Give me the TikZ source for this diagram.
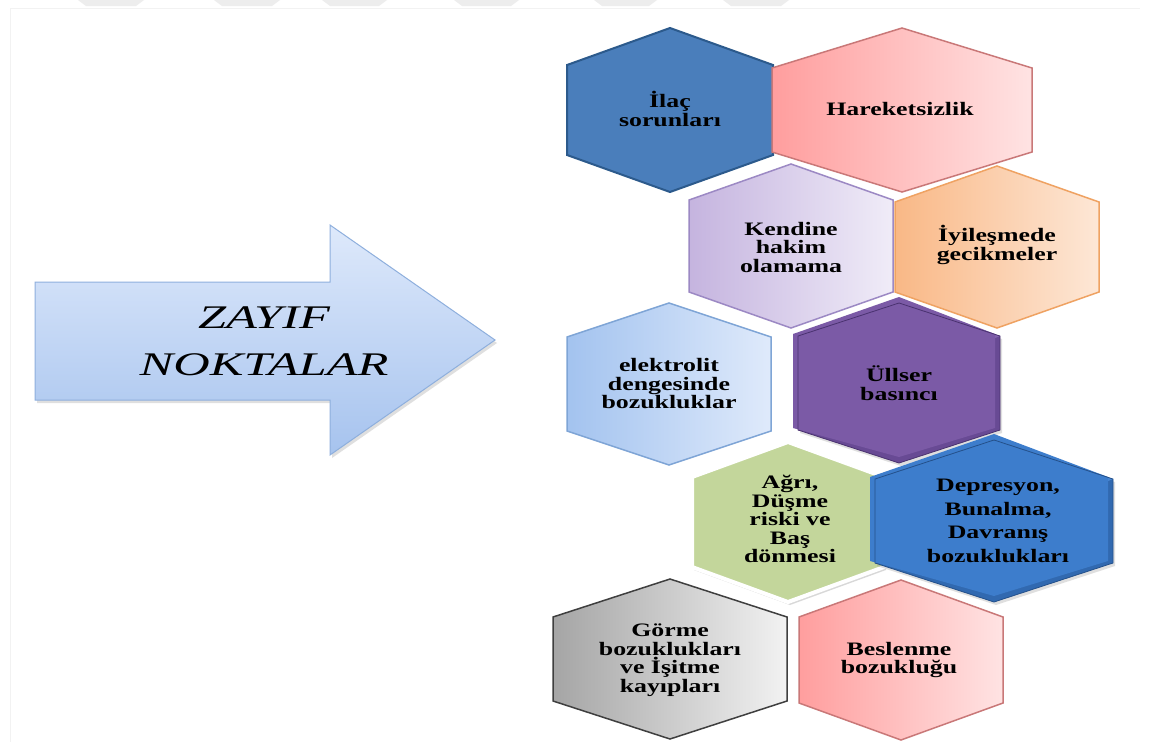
\documentclass[tikz,border=0pt]{standalone}
\usepackage{fontspec}
\setmainfont{Liberation Serif}
\newfontfamily\hexfont{Liberation Serif}[FakeStretch=1.36]
\newfontfamily\arrowfont{Liberation Serif}[FakeStretch=1.53]
\usetikzlibrary{shadows}

\definecolor{ilacblue}{HTML}{4A7EBB}
\definecolor{ilacedge}{HTML}{2C5A8C}
\definecolor{pinkL}{HTML}{FF9E9E}
\definecolor{pinkR}{HTML}{FFE3E3}
\definecolor{pinkedge}{HTML}{C97878}
\definecolor{lavL}{HTML}{C5B4DF}
\definecolor{lavR}{HTML}{F0ECF8}
\definecolor{lavedge}{HTML}{9C89C4}
\definecolor{orL}{HTML}{F9B886}
\definecolor{orR}{HTML}{FDE7D6}
\definecolor{oredge}{HTML}{EFA262}
\definecolor{ltbL}{HTML}{A3C3EF}
\definecolor{ltbR}{HTML}{DFEAFB}
\definecolor{ltbedge}{HTML}{7FA5D6}
\definecolor{greenA}{HTML}{C3D69B}
\definecolor{grayL}{HTML}{A5A5A5}
\definecolor{grayR}{HTML}{F2F2F2}
\definecolor{grayedge}{HTML}{3F3F3F}
\definecolor{arrowT}{HTML}{DEE9FB}
\definecolor{arrowB}{HTML}{A6C3EE}
\definecolor{arrowedge}{HTML}{8EAFDD}
\definecolor{purBase}{HTML}{7B5AA6}
\definecolor{purLight}{HTML}{A68DCC}
\definecolor{purTop}{HTML}{8465AF}
\definecolor{purDark}{HTML}{684A94}
\definecolor{purEdge}{HTML}{4A3270}
\definecolor{depBase}{HTML}{3D7DCC}
\definecolor{depLight}{HTML}{8AB4EA}
\definecolor{depTop}{HTML}{4A88D4}
\definecolor{depDark}{HTML}{3169B0}
\definecolor{depEdge}{HTML}{24508A}
\definecolor{wmark}{HTML}{EDEDED}

% #1 cx, #2 cy, #3 half width, #4 half height (vertex), #5 half side, #6 style
\newcommand\hexshape[6]{%
  \path[#6] (#1-#3,#2-#5) -- (#1,#2-#4) -- (#1+#3,#2-#5) -- (#1+#3,#2+#5)
    -- (#1,#2+#4) -- (#1-#3,#2+#5) -- cycle;}

% bevelled hexagon: #1..#5 geometry, #6 base, #7 light, #8 top, #9 dark
\newcommand\bevelhex[9]{%
  \hexshape{#1}{#2}{#3}{#4}{#5}{fill=#9, drop shadow={shadow xshift=2pt,shadow yshift=-3pt,opacity=0.25}}%
  \path[fill=#7] (#1-#3,#2-#5) -- (#1-#3,#2+#5) -- (#1-#3+5,#2+#5-2) -- (#1-#3+5,#2-#5+2) -- cycle;
  \path[fill=#8] (#1-#3,#2-#5) -- (#1,#2-#4) -- (#1+#3,#2-#5) -- (#1+#3-5,#2-#5+2) -- (#1,#2-#4+6) -- (#1-#3+5,#2-#5+2) -- cycle;
  \hexshape{#1}{#2}{#3-5}{#4-6}{#5-2}{fill=#6}}

\tikzset{
  hextext/.style={font=\hexfont\bfseries\fontsize{19}{18.5}\selectfont, align=center, text=black, inner sep=0pt},
  deptext/.style={hextext, font=\hexfont\bfseries\fontsize{19}{23.5}\selectfont},
  arrowtext/.style={font=\arrowfont\itshape\fontsize{33}{47}\selectfont, align=center, text=black, inner sep=0pt},
}

\begin{document}
\begin{tikzpicture}[x=1pt,y=-1pt]
\useasboundingbox (0,0) rectangle (1149,742);
\fill[white] (0,0) rectangle (1149,742);

% faint watermark remnants at the top edge
\foreach \a/\b in {82/140, 218/276, 326/383, 458/515, 598/653, 727/785}{
  \fill[wmark] (\a-4,0) -- (\b+4,0) -- (\b-4,6) -- (\a+4,6) -- cycle;
}
\draw[black!5, line width=0.6pt] (10,742) -- (10,8) -- (1140,8);

% arrow
\path[top color=arrowT, bottom color=arrowB, draw=arrowedge, line width=1pt,
      drop shadow={shadow xshift=2pt,shadow yshift=-3pt,opacity=0.25}]
  (35,282) -- (330,282) -- (330,225) -- (495,340) -- (330,455) -- (330,400) -- (35,400) -- cycle;
\node[arrowtext] (zayif) at (264,341) {ZAYIF\\NOKTALAR};

% row 1
\hexshape{670}{110}{103}{82}{45}{fill=ilacblue, draw=ilacedge, line width=2pt}
\node[hextext] (ilac) at (670,109) {İlaç\\sorunları};
\hexshape{902}{110}{130}{82}{42}{left color=pinkL, right color=pinkR, draw=pinkedge, line width=1.5pt}
\node[hextext] (hareket) at (900,109) {Hareketsizlik};

% row 2
\hexshape{791}{246}{102}{82}{46}{left color=lavL, right color=lavR, draw=lavedge, line width=1.5pt}
\node[hextext] (kendine) at (791,247) {Kendine\\hakim\\olamama};
\hexshape{997}{247}{102}{81}{45}{left color=orL, right color=orR, draw=oredge, line width=1.5pt}
\node[hextext] (iyiles) at (997,245) {İyileşmede\\gecikmeler};

% row 3
\hexshape{669}{384}{102}{81}{47}{left color=ltbL, right color=ltbR, draw=ltbedge, line width=1.5pt}
\node[hextext] (elektro) at (669,384) {elektrolit\\dengesinde\\bozukluklar};
\bevelhex{899}{383}{101}{80}{47}{purBase}{purLight}{purTop}{purDark}
\hexshape{899}{383}{101}{80}{47}{draw=purEdge, line width=0.8pt}
\node[hextext] (ulser) at (899,383) {Üllser\\basıncı};

% row 4
\hexshape{788}{522}{96}{80}{45}{fill=greenA, draw=white, line width=4pt,
  drop shadow={shadow xshift=2pt,shadow yshift=-3pt,opacity=0.3}}
\node[hextext] (agri) at (790,519) {Ağrı,\\Düşme\\riski ve\\Baş\\dönmesi};
\bevelhex{994}{521}{119}{81}{42}{depBase}{depLight}{depTop}{depDark}
\hexshape{994}{521}{119}{81}{42}{draw=depEdge, line width=0.8pt}
\node[deptext] (depres) at (998,521) {Depresyon,\\Bunalma,\\Davranış\\bozuklukları};

% row 5
\hexshape{670}{659}{117}{80}{42}{left color=grayL, right color=grayR, draw=grayedge, line width=1.5pt}
\node[hextext] (gorme) at (670,660) {Görme\\bozuklukları\\ve İşitme\\kayıpları};
\hexshape{901}{660}{102}{80}{43}{left color=pinkL, right color=pinkR, draw=pinkedge, line width=1.5pt}
\node[hextext] (beslen) at (899,660) {Beslenme\\bozukluğu};
\end{tikzpicture}
\end{document}
